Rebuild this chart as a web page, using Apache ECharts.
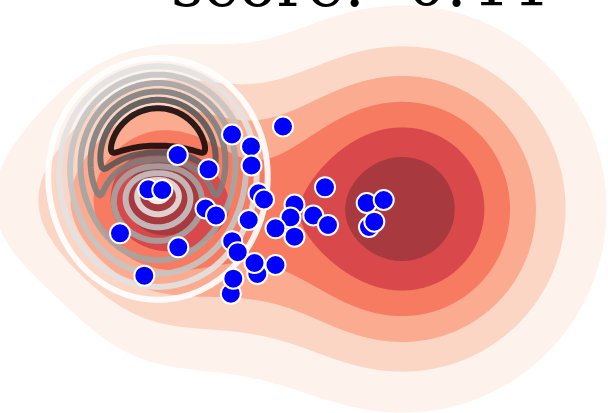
<!DOCTYPE html>
<html>
<head>
<meta charset="utf-8">
<script src="https://cdn.jsdelivr.net/npm/echarts@6/dist/echarts.min.js"></script>
<style>
  html, body { margin: 0; padding: 0; background: #ffffff; }
  #chart { width: 608px; height: 413px; }
</style>
</head>
<body>
<div id="chart"></div>
<script>
// Sample positions
const sampleX = [-0.21, -0.72, -0.53, -1.263, -0.525, -0.955, 0.21, -1.557, -1.417, -0.455, -0.40,
  0.627, 0.797, -0.095, -0.985, -0.88, -0.135, 0.093, -0.553, 0.65, 0.703, 0.24, -0.285, -0.095,
  -1.84, -1.257, -0.718, -0.663, -0.467, -0.495, -0.285, -1.597, -0.732, -0.707];
const sampleY = [0.795, 0.715, 0.595, 0.51, 0.405, 0.367, 0.187, 0.167, 0.16, 0.127, 0.065,
  0.03, 0.06, 0.015, -0.025, -0.095, -0.115, -0.095, -0.14, -0.21, -0.157, -0.19, -0.223, -0.307,
  -0.273, -0.413, -0.352, -0.462, -0.68, -0.57, -0.59, -0.697, -0.877, -0.727];

// Filled density: Gaussian components
const fillCx = [0.99, -1.42, -1.46, -2.34, -1.52, -0.59];
const fillCy = [-0.03, 0.11, -0.04, 0.06, 1.06, -0.19];
const fillSx = [1.04, 0.35, 0.62, 0.70, 0.80, 0.50];
const fillSy = [1.04, 0.35, 0.90, 0.60, 0.40, 0.80];
const fillW  = [6.79, 2.8, 3.4, 1.6, 0.5, 1.1];
const fillLevels = [1, 2, 3, 4, 5, 6];

// Line density: a ridge running round a ring, highest at its top
const ringCentre = [-1.46, 0.13];
const ringAspect = 1.05;            // horizontal squeeze
const ringPeak = [4.5, 4.5];        // height at the bottom, extra height at the top
const ringRadius = [0.61, 0.035];   // mean radius, top/bottom offset
const ringSlopeOut = [7.7, 4.3];
const ringSlopeIn = [7.7, 7.0];
const lineLevels = [1, 2, 3, 4, 5, 6, 7];

const titleText = 'score: -0.44';

// Palettes
const fillColors = ['#fdf2ec', '#fcd6c5', '#fbab90', '#f77b60', '#d9494b', '#a8393f'];
const lineColors = ['#ffffff', '#e2e2e2', '#c4c4c4', '#a4a4a4', '#7e7e7e', '#585858', '#140b0b'];

function fillDensity(x, y) {
  let v = 0;
  for (let k = 0; k < fillW.length; k++) {
    const dx = (x - fillCx[k]) / fillSx[k], dy = (y - fillCy[k]) / fillSy[k];
    v += fillW[k] * Math.exp(-0.5 * (dx * dx + dy * dy));
  }
  return v;
}
function ringDensity(x, y) {
  const dx = (x - ringCentre[0]) * ringAspect, dy = y - ringCentre[1];
  const r = Math.sqrt(dx * dx + dy * dy) + 1e-9;
  const s = dy / r;
  const u = Math.pow((1 + s) / 2, 3);
  const P = ringPeak[0] + ringPeak[1] * u;
  const R = ringRadius[0] + ringRadius[1] * s;
  const d = r - R;
  const m = d > 0 ? ringSlopeOut[0] + ringSlopeOut[1] * u : ringSlopeIn[0] + ringSlopeIn[1] * u;
  const eps = 0.04;
  return P - m * (Math.sqrt(d * d + eps * eps) - eps);
}

// Grid sampling
const X0 = -3.6, Y0 = -2.7, STEP = 0.02, NX = 361, NY = 271;
function sample(fn) {
  const F = new Float64Array(NX * NY);
  for (let j = 0; j < NY; j++) for (let i = 0; i < NX; i++) F[j * NX + i] = fn(X0 + i * STEP, Y0 + j * STEP);
  return F;
}

// Marching squares: closed iso-lines of F at a level
function isoLoops(F, L) {
  const pts = new Map();
  const segs = [];
  function pt(id, xa, ya, va, xb, yb, vb) {
    if (!pts.has(id)) {
      const t = (L - va) / (vb - va);
      pts.set(id, [xa + t * (xb - xa), ya + t * (yb - ya)]);
    }
    return id;
  }
  for (let j = 0; j < NY - 1; j++) {
    for (let i = 0; i < NX - 1; i++) {
      const v0 = F[j * NX + i], v1 = F[j * NX + i + 1], v2 = F[(j + 1) * NX + i + 1], v3 = F[(j + 1) * NX + i];
      const code = (v0 >= L ? 1 : 0) | (v1 >= L ? 2 : 0) | (v2 >= L ? 4 : 0) | (v3 >= L ? 8 : 0);
      if (code === 0 || code === 15) continue;
      const x = X0 + i * STEP, y = Y0 + j * STEP, x1 = x + STEP, y1 = y + STEP;
      const B = () => pt((j * NX + i) * 2, x, y, v0, x1, y, v1);
      const T = () => pt(((j + 1) * NX + i) * 2, x, y1, v3, x1, y1, v2);
      const Le = () => pt((j * NX + i) * 2 + 1, x, y, v0, x, y1, v3);
      const R = () => pt((j * NX + i + 1) * 2 + 1, x1, y, v1, x1, y1, v2);
      if (code === 5 || code === 10) {
        const c = (v0 + v1 + v2 + v3) / 4 >= L;
        if ((code === 5) === c) { segs.push([B(), R()]); segs.push([Le(), T()]); }
        else { segs.push([Le(), B()]); segs.push([R(), T()]); }
        continue;
      }
      const e = [];
      if ((v0 >= L) !== (v1 >= L)) e.push(B());
      if ((v1 >= L) !== (v2 >= L)) e.push(R());
      if ((v3 >= L) !== (v2 >= L)) e.push(T());
      if ((v0 >= L) !== (v3 >= L)) e.push(Le());
      segs.push(e);
    }
  }
  const adj = new Map();
  segs.forEach((s, k) => {
    for (const id of s) { if (!adj.has(id)) adj.set(id, []); adj.get(id).push(k); }
  });
  const used = new Uint8Array(segs.length);
  const loops = [];
  for (let k = 0; k < segs.length; k++) {
    if (used[k]) continue;
    used[k] = 1;
    const start = segs[k][0];
    let cur = segs[k][1];
    const loop = [pts.get(start), pts.get(cur)];
    while (cur !== start) {
      let next = -1;
      for (const s of adj.get(cur)) if (!used[s]) { next = s; break; }
      if (next < 0) break;
      used[next] = 1;
      cur = segs[next][0] === cur ? segs[next][1] : segs[next][0];
      loop.push(pts.get(cur));
    }
    if (loop.length > 3) loops.push(loop);
  }
  return loops;
}

function shapeSeries(loops, style, z) {
  return {
    type: 'custom',
    coordinateSystem: 'cartesian2d',
    silent: true,
    clip: true,
    z: z,
    encode: { x: 0, y: 1 },
    data: loops.map(l => [l[0][0], l[0][1]]),
    renderItem: (params, api) => ({
      type: 'polygon',
      shape: { points: loops[params.dataIndex].map(p => api.coord(p)) },
      style: style
    })
  };
}

const fillGrid = sample(fillDensity);
const ringGrid = sample(ringDensity);
const series = [];
fillLevels.forEach((L, k) => {
  series.push(shapeSeries(isoLoops(fillGrid, L), { fill: fillColors[k] }, 1 + k));
});
lineLevels.forEach((L, k) => {
  series.push(shapeSeries(isoLoops(ringGrid, L),
    { fill: 'none', stroke: lineColors[k], lineWidth: 6, lineJoin: 'round', opacity: 0.9 }, 10 + k));
});
series.push({
  type: 'scatter',
  z: 30,
  symbolSize: 20,
  data: sampleX.map((x, i) => [x, sampleY[i]]),
  itemStyle: { color: '#0000ff', borderColor: '#ffffff', borderWidth: 2, opacity: 1 }
});

const chart = echarts.init(document.getElementById('chart'), null, { renderer: 'canvas' });
chart.setOption({
  animation: false,
  backgroundColor: '#ffffff',
  title: {
    text: titleText,
    left: 166,
    top: -47,
    textStyle: { fontFamily: 'DejaVu Serif', fontSize: 63, fontWeight: 'normal', color: '#000000' }
  },
  grid: { left: 0, right: 0, top: 0, bottom: 0 },
  xAxis: { type: 'value', min: -3.04, max: 3.04, show: false },
  yAxis: { type: 'value', min: -2.07, max: 2.06, show: false },
  series: series
});
</script>
</body>
</html>
